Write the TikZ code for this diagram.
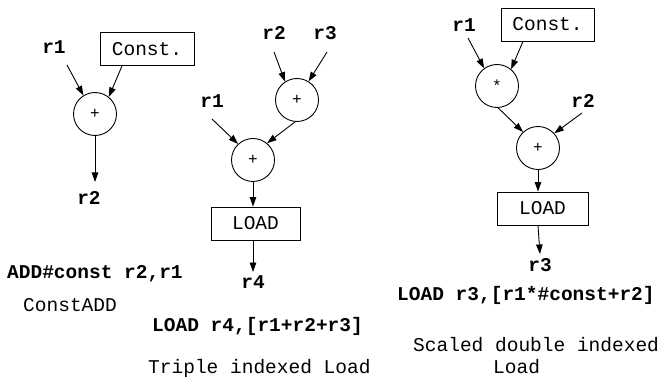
\documentclass[tikz,border=0pt]{standalone}
\usepackage{fontspec}
\setmonofont{Liberation Mono}
\usetikzlibrary{arrows.meta,calc}
\begin{document}
\begin{tikzpicture}[x=1pt,y=-1pt,
  txt/.style={font=\ttfamily\fontsize{19.5}{22}\selectfont, inner sep=0pt},
  bold/.style={font=\ttfamily\bfseries\fontsize{19.5}{22}\selectfont, inner sep=0pt},
  reg/.style={bold, anchor=base},
  op/.style={circle, draw, line width=0.9pt, minimum size=43pt, inner sep=0pt,
             font=\ttfamily\fontsize{16}{16}\selectfont},
  unit/.style={draw, line width=0.9pt, inner sep=0pt, minimum height=33pt,
               font=\ttfamily\fontsize{19.5}{22}\selectfont},
  arr/.style={line width=0.9pt, -{Triangle[length=9.5pt,width=6.5pt]}}
]
\useasboundingbox (0,0) rectangle (666,379);

% ---- ConstADD ----
\node[reg] (a1r1) at (54,54) {r1};
\node[unit, minimum width=94pt] (a1c) at (147,49) {Const.};
\node[op] (a1p) at (95,114) {+};
\node[reg] (a1r2) at (89,205) {r2};
\draw[arr] ($(a1r1.base)+(13,11)$) -- (a1p.122);
\draw[arr] ($(a1c.south)+(-25,0)$) -- (a1p.51);
\draw[arr] (a1p.south) -- ($(a1r2.base)+(6,-23)$);
\node[bold, anchor=base west] (a1i) at (7,278) {ADD\#const r2,r1};
\node[txt, anchor=base west] (a1n) at (23,311) {ConstADD};

% ---- Triple indexed Load ----
\node[reg] (a2r2) at (274,40) {r2};
\node[reg] (a2r3) at (325,40) {r3};
\node[op] (a2t) at (297,100) {+};
\node[reg] (a2r1) at (212,108) {r1};
\node[op] (a2b) at (253,160) {+};
\node[unit, minimum width=89pt] (a2l) at (255.5,223.5) {LOAD};
\node[reg] (a2r4) at (253,288) {r4};
\draw[arr] ($(a2r2.base)+(0,12)$) -- (a2t.123);
\draw[arr] ($(a2r3.base)+(2,12)$) -- (a2t.58);
\draw[arr] ($(a2r1.base)+(0,11)$) -- (a2b.133);
\draw[arr] (a2t.265) -- (a2b.50);
\draw[arr] (a2b.south) -- (a2b.south |- a2l.north);
\draw[arr] (a2b.south |- a2l.south) -- ($(a2r4.base)+(0,-16)$);
\node[bold, anchor=base west] (a2i) at (152,331) {LOAD r4,[r1+r2+r3]};
\node[txt, anchor=base west] (a2n) at (148,373) {Triple indexed Load};

% ---- Scaled double indexed Load ----
\node[reg] (a3r1) at (464,32) {r1};
\node[unit, minimum width=93pt] (a3c) at (547.5,24.5) {Const.};
\node[op] (a3s) at (497,86) {*};
\node[reg] (a3r2) at (583,108) {r2};
\node[op] (a3p) at (538,148) {+};
\node[unit, minimum width=91pt] (a3l) at (542.5,208.5) {LOAD};
\node[reg] (a3r3) at (540,272) {r3};
\draw[arr] ($(a3r1.base)+(4,6)$) -- (a3s.126);
\draw[arr] ($(a3c.south)+(-24.5,0)$) -- (a3s.50);
\draw[arr] (a3s.273) -- (a3p.133);
\draw[arr] ($(a3r2.base)+(-1,5)$) -- (a3p.42);
\draw[arr] (a3p.south) -- (a3p.south |- a3l.north);
\draw[arr] (a3p.south |- a3l.south) -- ($(a3r3.base)+(0,-18)$);
\node[bold, anchor=base west] (a3i) at (397,300) {LOAD r3,[r1*\#const+r2]};
\node[txt, anchor=base west, align=left] (a3n) at (413,373)
  {Scaled double indexed\\\hspace*{80pt}Load};
\end{tikzpicture}
\end{document}
